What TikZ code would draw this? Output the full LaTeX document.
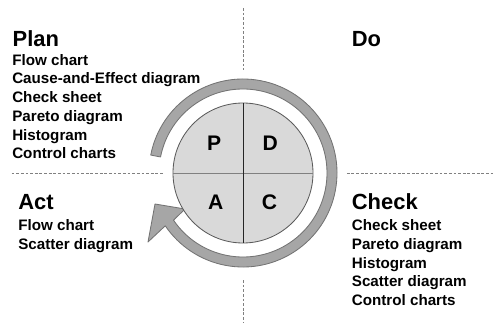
\documentclass[tikz,border=0pt]{standalone}
\usepackage{fontspec}
\setmainfont{Liberation Sans}
\usepackage{tikz}
\usetikzlibrary{positioning,calc}

\begin{document}
\begin{tikzpicture}[every node/.style={font=\bfseries, inner sep=0pt},
  heading/.style={anchor=base west, font=\fontsize{15.6}{18}\selectfont\bfseries},
  toollist/.style={anchor=north west, align=left, font=\fontsize{10.8}{13.3}\selectfont\bfseries},
  letter/.style={font=\fontsize{15}{18}\selectfont\bfseries},
  divider/.style={dashgray, dash pattern=on 2pt off 1.3pt, line width=0.5pt}]

\definecolor{dashgray}{RGB}{128,128,128}
\definecolor{wheelfill}{RGB}{217,217,217}
\definecolor{wheelline}{RGB}{90,90,90}
\definecolor{band}{RGB}{166,166,166}
\definecolor{bandline}{RGB}{115,115,115}

\useasboundingbox (0,0) rectangle (12.35,8.075);

% ===================== QUADRANT DIVIDERS =====================
\draw[divider] (6.075,7.875) -- (6.075,6.325);
\draw[divider] (6.075,1.075) -- (6.075,0.025);
\draw[divider] (0.29,3.75) -- (4.08,3.75);
\draw[divider] (8.67,3.75) -- (12.33,3.75);

% ===================== CYCLE ARROW =====================
\begin{scope}[shift={(6.075,3.75)}]
  \filldraw[fill=band, draw=bandline, line width=0.6pt, line join=round]
    (169:2.35) arc[start angle=169, end angle=-145.8, radius=2.35]
    -- (-2.375,-1.725) -- (-2.2,-0.775) -- (-1.45,-0.9)
    -- (-145.8:2.1) arc[start angle=-145.8, end angle=169, radius=2.1] -- cycle;
\end{scope}

% ===================== PDCA WHEEL =====================
\node[circle, draw=wheelline, fill=wheelfill, line width=0.6pt, minimum size=3.5cm] (wheel) at (6.075,3.75) {};
\draw[dashgray, line width=0.6pt] (wheel.west) -- (wheel.east);
\draw[black!85, line width=0.6pt] (wheel.north) -- (wheel.south);

\node[letter] (p) at ($(wheel)+(-0.72,0.75)$) {P};
\node[letter] (d) at ($(wheel)+(0.68,0.75)$) {D};
\node[letter] (a) at ($(wheel)+(-0.68,-0.72)$) {A};
\node[letter] (c) at ($(wheel)+(0.66,-0.72)$) {C};

% ===================== PLAN / DO =====================
\node[heading] (plan) at (0.31,6.9075) {Plan};
\node[toollist] (plantools) at (0.3,6.725) {Flow chart\\Cause-and-Effect diagram\\Check sheet\\Pareto diagram\\Histogram\\Control charts};
\node[heading] (do) at (8.79,6.9075) {Do};

% ===================== ACT / CHECK =====================
\node[heading] (act) at (0.45,2.8375) {Act};
\node[toollist] (acttools) at (0.45,2.59) {Flow chart\\Scatter diagram};
\node[heading] (check) at (8.79,2.8425) {Check};
\node[toollist] (checktools) at (8.79,2.59) {Check sheet\\Pareto diagram\\Histogram\\Scatter diagram\\Control charts};

\end{tikzpicture}
\end{document}
